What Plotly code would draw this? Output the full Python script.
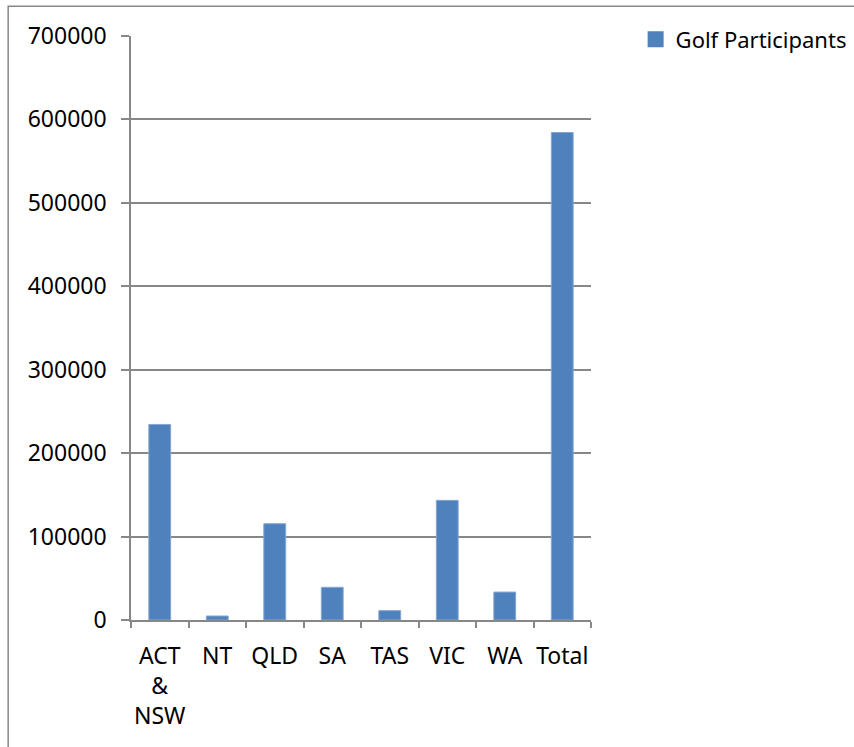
import plotly.graph_objects as go

# Golf participants by state / territory
categories = ["ACT & NSW", "NT", "QLD", "SA", "TAS", "VIC", "WA", "Total"]
tick_labels = ["ACT<br>&<br>NSW", "NT", "QLD", "SA", "TAS", "VIC", "WA", "Total"]
participants = [234400, 4800, 115400, 39200, 11200, 143400, 33500, 584300]
y_ticks = [0, 100000, 200000, 300000, 400000, 500000, 600000, 700000]

FONT = "Noto Sans"
AXIS_GREY = "#878787"
BAR_BLUE = "#4F81BD"

fig = go.Figure()
fig.add_trace(
    go.Bar(
        x=categories,
        y=participants,
        name="Golf Participants",
        width=0.38,
        marker=dict(color=BAR_BLUE, line=dict(color="#86A6D2", width=1)),
        showlegend=False,
        legendgroup="golf",
    )
)
# legend entry with a larger square key
fig.add_trace(
    go.Scatter(
        x=[None], y=[None],
        mode="markers",
        name="Golf Participants",
        marker=dict(symbol="square", size=16, color=BAR_BLUE),
        legendgroup="golf",
        showlegend=True,
        hoverinfo="skip",
    )
)

fig.update_layout(
    width=854,
    height=747,
    margin=dict(l=131, r=263, t=36, b=127, autoexpand=False),
    paper_bgcolor="white",
    plot_bgcolor="white",
    font=dict(family=FONT, size=22, color="#000000"),
    showlegend=True,
    legend=dict(
        x=1.097, y=1.03, xanchor="left", yanchor="top",
        font=dict(family=FONT, size=22, color="#000000"),
        bgcolor="rgba(0,0,0,0)",
        itemwidth=30,
    ),
)

fig.update_xaxes(
    tickmode="array",
    tickvals=categories,
    ticktext=tick_labels,
    tickangle=0,
    tickson="boundaries",
    ticks="outside",
    ticklen=6,
    tickwidth=1.5,
    tickcolor=AXIS_GREY,
    showline=True,
    linecolor=AXIS_GREY,
    linewidth=1.5,
    showgrid=False,
    range=[-0.5, 7.5],
    ticklabelstandoff=15,
    tickfont=dict(family=FONT, size=23, color="#000000"),
)

fig.update_yaxes(
    range=[0, 700000],
    tickmode="array",
    tickvals=y_ticks,
    ticktext=[str(v) for v in y_ticks],
    ticks="outside",
    ticklen=8,
    tickwidth=1.5,
    tickcolor=AXIS_GREY,
    showline=True,
    linecolor=AXIS_GREY,
    linewidth=1.5,
    showgrid=True,
    gridcolor=AXIS_GREY,
    gridwidth=1.5,
    zeroline=False,
    ticklabelstandoff=10,
    tickfont=dict(family=FONT, size=23, color="#000000"),
)

# outer chart frame (only the top and left edges fall inside the page)
fig.add_shape(
    type="rect", xref="paper", yref="paper",
    x0=-0.267, x1=2.0, y0=-1.0, y1=1.0508,
    line=dict(color=AXIS_GREY, width=1.5),
    fillcolor="rgba(0,0,0,0)",
    layer="below",
)

fig.write_html("out.html")
